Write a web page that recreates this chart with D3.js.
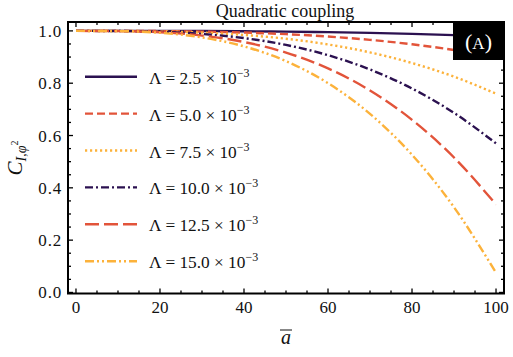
<!DOCTYPE html>
<html lang="en">
  <head>
    <meta charset="UTF-8" />
    <title>Quadratic coupling</title>
    <script src="https://d3js.org/d3.v7.min.js"></script>
    <style>
      body {
        margin: 0;
        background: #fff;
      }
      text {
        font-family: 'Liberation Serif', 'DejaVu Serif', serif;
        fill: #111;
      }
    </style>
  </head>
  <body>
    <svg id="chart" width="513" height="357"></svg>
    <script>
      // values (abar on x, C on y)
      const aBar = [0, 10, 20, 30, 40, 50, 60, 70, 80, 90, 100];
      const lambdaLabels = ['2.5', '5.0', '7.5', '10.0', '12.5', '15.0'];
      const c25 = [1, 1, 0.9998, 0.9994, 0.9986, 0.9973, 0.9952, 0.9925, 0.9887, 0.984, 0.978];
      const c50 = [1, 0.9999, 0.9992, 0.9973, 0.9936, 0.9875, 0.9784, 0.9657, 0.9488, 0.9271, 0.9];
      const c75 = [1, 0.9998, 0.9981, 0.9935, 0.9846, 0.97, 0.9482, 0.9177, 0.8771, 0.825, 0.76];
      const c100 = [1, 0.9996, 0.9966, 0.9884, 0.9725, 0.9463, 0.9071, 0.8525, 0.7798, 0.6865, 0.57];
      const c125 = [1, 0.9993, 0.9947, 0.9821, 0.9575, 0.917, 0.8566, 0.7722, 0.66, 0.516, 0.336];
      const c150 = [1, 0.9991, 0.9926, 0.975, 0.9408, 0.8844, 0.8002, 0.6827, 0.5264, 0.3257, 0.075];
      const xTicks = [0, 20, 40, 60, 80, 100];
      const yTicks = [0, 0.2, 0.4, 0.6, 0.8, 1.0];

      const allSeries = [c25, c50, c75, c100, c125, c150];
      const colors = ['#2b1150', '#e2543a', '#fcb23b', '#2b1150', '#e2543a', '#fcb23b'];
      const dashes = ['', '8,4', '2.2,2.8', '8,3,2,3', '14,5', '9,3,2,3,2,3'];

      const svg = d3.select('#chart');
      const pLeft = 68, pRight = 504, pTop = 22, pBottom = 293.5;

      const x = d3.scaleLinear().domain([-1.9, 101.9]).range([pLeft, pRight]);
      const y = d3.scaleLinear().domain([-0.004, 1.034]).range([pBottom, pTop]);

      svg.append('clipPath').attr('id', 'plot-clip')
        .append('rect')
        .attr('x', pLeft).attr('y', pTop)
        .attr('width', pRight - pLeft).attr('height', pBottom - pTop);

      // curves
      const line = d3.line()
        .x((d, i) => x(aBar[i]))
        .y((d) => y(d))
        .curve(d3.curveMonotoneX);

      svg.append('g')
        .attr('clip-path', 'url(#plot-clip)')
        .selectAll('path')
        .data(allSeries)
        .join('path')
        .attr('d', line)
        .attr('fill', 'none')
        .attr('stroke', (d, i) => colors[i])
        .attr('stroke-width', 2.4)
        .attr('stroke-dasharray', (d, i) => dashes[i]);

      // frame and ticks
      const axes = svg.append('g').attr('stroke', '#000');
      const xMinor = d3.range(0, 101, 5);
      const yMinor = d3.range(0, 1.001, 0.05);
      xMinor.forEach((v) => {
        const len = v % 20 === 0 ? 5 : 3;
        axes.append('line').attr('x1', x(v)).attr('x2', x(v))
          .attr('y1', pBottom).attr('y2', pBottom - len).attr('stroke-width', 1.3);
        axes.append('line').attr('x1', x(v)).attr('x2', x(v))
          .attr('y1', pTop).attr('y2', pTop + len).attr('stroke-width', 1.3);
      });
      yMinor.forEach((v, i) => {
        const len = i % 4 === 0 ? 5 : 3;
        axes.append('line').attr('y1', y(v)).attr('y2', y(v))
          .attr('x1', pLeft).attr('x2', pLeft + len).attr('stroke-width', 1.3);
        axes.append('line').attr('y1', y(v)).attr('y2', y(v))
          .attr('x1', pRight).attr('x2', pRight - len).attr('stroke-width', 1.3);
      });
      axes.append('rect')
        .attr('x', pLeft).attr('y', pTop)
        .attr('width', pRight - pLeft).attr('height', pBottom - pTop)
        .attr('fill', 'none').attr('stroke-width', 2);

      // tick labels
      svg.append('g').selectAll('text')
        .data(xTicks)
        .join('text')
        .attr('x', (d) => x(d))
        .attr('y', 313)
        .attr('text-anchor', 'middle')
        .attr('font-size', 17)
        .text((d) => d);

      svg.append('g').selectAll('text')
        .data(yTicks)
        .join('text')
        .attr('x', 62)
        .attr('y', (d) => y(d) + 6)
        .attr('text-anchor', 'end')
        .attr('font-size', 17)
        .attr('letter-spacing', 0.8)
        .text((d) => d.toFixed(1));

      // title and axis labels
      svg.append('text')
        .attr('x', 285).attr('y', 17)
        .attr('text-anchor', 'middle')
        .attr('font-size', 18)
        .text('Quadratic coupling');

      svg.append('text')
        .attr('x', 286).attr('y', 344)
        .attr('text-anchor', 'middle')
        .attr('font-size', 20)
        .attr('font-style', 'italic')
        .text('a');
      svg.append('line')
        .attr('x1', 280).attr('x2', 292)
        .attr('y1', 330).attr('y2', 330)
        .attr('stroke', '#111').attr('stroke-width', 1);

      const yl = svg.append('text')
        .attr('transform', 'translate(22,158) rotate(-90)')
        .attr('text-anchor', 'middle')
        .attr('font-style', 'italic')
        .attr('font-size', 21);
      yl.append('tspan').text('C');
      yl.append('tspan').attr('font-size', 14).attr('dy', 4).text('I,φ');
      yl.append('tspan').attr('font-size', 10).attr('dy', -8).attr('font-style', 'normal').text('2');

      // legend
      const legend = svg.append('g');
      lambdaLabels.forEach((lab, i) => {
        const ly = 76.7 + i * 36.9;
        legend.append('line')
          .attr('x1', 85).attr('x2', 137)
          .attr('y1', ly).attr('y2', ly)
          .attr('stroke', colors[i])
          .attr('stroke-width', 2.4)
          .attr('stroke-dasharray', dashes[i]);
        const t = legend.append('text')
          .attr('x', 149).attr('y', ly + 7)
          .attr('font-size', 17.3);
        t.append('tspan').text('Λ = ' + lab + ' × 10');
        t.append('tspan').attr('font-size', 12).attr('dy', -7).text('−3');
      });

      // panel tag
      svg.append('rect')
        .attr('x', 453).attr('y', 22)
        .attr('width', 51).attr('height', 38)
        .attr('fill', '#000');
      const tag = svg.append('text')
        .attr('x', 478.5).attr('y', 49)
        .attr('text-anchor', 'middle')
        .attr('font-size', 22)
        .style('fill', '#fff');
      tag.append('tspan').text('(');
      tag.append('tspan').attr('font-size', 17).text('A');
      tag.append('tspan').text(')');
    </script>
  </body>
</html>
